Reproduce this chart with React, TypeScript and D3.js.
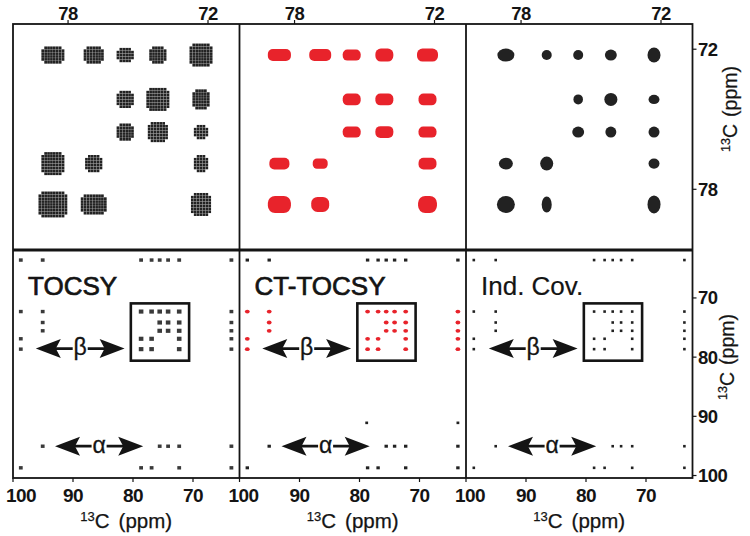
import React from 'react';
import * as d3 from 'd3';

const W = 750;
const H = 536;

// ---------- DATA ----------
// Zoomed (beta ring carbon) region cross peaks, ppm
const boxPeakX = [78.65, 76.9, 75.55, 74.15, 72.3, 75.55, 74.15, 72.3, 75.55, 74.15, 72.3, 78.65, 76.9, 72.3, 78.65, 76.9, 72.3];
const boxPeakY = [72.25, 72.25, 72.25, 72.25, 72.25, 74.15, 74.15, 74.15, 75.55, 75.55, 75.55, 76.9, 76.9, 76.9, 78.65, 78.65, 78.65];
// apparent peak extents in ppm [x, y] for each spectrum
const tocsyExtent = [[0.99, 0.73], [0.86, 0.73], [0.73, 0.64], [0.77, 0.69], [0.94, 0.94], [0.73, 0.77], [0.94, 0.99], [0.73, 0.86], [0.73, 0.73], [0.86, 0.86], [0.64, 0.64], [0.94, 0.94], [0.73, 0.73], [0.64, 0.77], [1.2, 1.07], [1.07, 0.86], [0.86, 0.94]];
const ctExtent = [[0.99, 0.51], [0.94, 0.51], [0.77, 0.47], [0.77, 0.56], [0.9, 0.56], [0.77, 0.51], [0.77, 0.51], [0.77, 0.51], [0.77, 0.47], [0.77, 0.51], [0.77, 0.47], [0.86, 0.51], [0.64, 0.43], [0.77, 0.51], [0.99, 0.73], [0.77, 0.64], [0.81, 0.73]];
const covExtent = [[0.73, 0.56], [0.43, 0.43], [0.43, 0.43], [0.51, 0.47], [0.56, 0.64], [0.41, 0.43], [0.56, 0.56], [0.47, 0.39], [0.51, 0.47], [0.47, 0.47], [0.47, 0.47], [0.6, 0.51], [0.56, 0.6], [0.47, 0.43], [0.77, 0.73], [0.43, 0.69], [0.56, 0.77]];

// Full spectrum cross peaks, row by row (y ppm -> x ppm list)
const fullRowY = [63.6, 72.3, 74.15, 75.55, 76.9, 78.65, 95.05, 98.7];
const fullRowX = [
  [98.7, 95.05, 78.65, 76.9, 75.55, 74.15, 72.3, 63.6],
  [98.7, 95.05, 78.65, 76.9, 75.55, 74.15, 72.3, 63.6],
  [95.05, 75.55, 74.15, 72.3, 63.6],
  [95.05, 75.55, 74.15, 72.3, 63.6],
  [98.7, 78.65, 76.9, 72.3, 63.6],
  [98.7, 78.65, 76.9, 72.3, 63.6],
  [95.05, 75.55, 74.15, 72.3, 63.6],
  [98.7, 78.65, 76.9, 72.3, 63.6],
];
// extra (artifact) peaks seen only in the CT-TOCSY spectrum
const ctExtraX = [78.8, 63.6];
const ctExtraY = [91.1, 91.1];

const zoomX = [80.36, 70.65];
const zoomY = [70.92, 80.6];
const fullX = [100, 62.25];
const fullY = [61.9, 100.42];

const topTicks = [78, 72];
const fullTicks = [100, 90, 80, 70];
const panelNames = ['TOCSY', 'CT-TOCSY', 'Ind. Cov.'];
const betaArrow = [96.2, 81.4, 78.55];
const alphaArrow = [93.0, 78.3, 95.05];

// ---------- STYLE ----------
const FONT = 'Liberation Sans, Arial, Helvetica, sans-serif';
const RED = '#e8232b';
const INK = '#141414';

function Multiplet({ cx, cy, w, h }: { cx: number; cy: number; w: number; h: number }) {
  const p = 2.9;
  const nx = Math.max(2, Math.round(w / p));
  const ny = Math.max(2, Math.round(h / p));
  const dots: React.ReactNode[] = [];
  for (let i = 0; i < nx; i++) {
    for (let j = 0; j < ny; j++) {
      const corner = (i === 0 || i === nx - 1) && (j === 0 || j === ny - 1);
      if (corner && nx > 3 && ny > 3) continue;
      const x = cx - ((nx - 1) * p) / 2 + i * p;
      const y = cy - ((ny - 1) * p) / 2 + j * p;
      dots.push(<rect key={i + '-' + j} x={x - 1.35} y={y - 1.35} width={2.7} height={2.7} fill="#222" />);
    }
  }
  return <g>{dots}</g>;
}

function Arrow({ x1, x2, y, label }: { x1: number; x2: number; y: number; label: string }) {
  const L = 25;
  const hh = 9.5;
  const left = `M${x1},${y} L${x1 + L},${y - hh} L${x1 + L * 0.8},${y} L${x1 + L},${y + hh} Z`;
  const right = `M${x2},${y} L${x2 - L},${y - hh} L${x2 - L * 0.8},${y} L${x2 - L},${y + hh} Z`;
  const mid = (x1 + x2) / 2;
  return (
    <g>
      <line x1={x1 + L * 0.7} x2={x2 - L * 0.7} y1={y} y2={y} stroke={INK} strokeWidth={2.8} />
      <rect x={mid - 7.5} y={y - 10} width={15} height={20} fill="white" />
      <text x={mid} y={y + 6.5} fontSize={23} textAnchor="middle" fontFamily={FONT} fill={INK} stroke={INK} strokeWidth={0.3}>{label}</text>
      <path d={left} fill={INK} />
      <path d={right} fill={INK} />
    </g>
  );
}

export default function App() {
  const lefts = [13, 239.5, 466];
  const pw = 226.5;
  const top0 = 24;
  const mid = 250;
  const bot = 478;
  const right = lefts[2] + pw;

  const ty = d3.scaleLinear().domain(zoomY).range([top0, mid]);
  const by = d3.scaleLinear().domain(fullY).range([mid, bot]);

  const inZoom = (x: number, y: number) => x <= zoomX[0] && x >= zoomX[1] && y >= zoomY[0] && y <= zoomY[1];

  const panels = lefts.map((l, k) => {
    const tx = d3.scaleLinear().domain(zoomX).range([l, l + pw]);
    const bx = d3.scaleLinear().domain(fullX).range([l, l + pw]);

    const topMarks = boxPeakX.map((px, i) => {
      const cx = tx(px);
      const cy = ty(boxPeakY[i]);
      const ppx = Math.abs(tx(0) - tx(1));
      if (k === 0) {
        const e = tocsyExtent[i];
        return <Multiplet key={i} cx={cx} cy={cy} w={e[0] * ppx} h={e[1] * ppx} />;
      }
      if (k === 1) {
        const e = ctExtent[i];
        const w = e[0] * ppx;
        const h = e[1] * ppx;
        return <rect key={i} x={cx - w / 2} y={cy - h / 2} width={w} height={h} rx={h * 0.42} ry={h * 0.42} fill={RED} />;
      }
      const e = covExtent[i];
      return <ellipse key={i} cx={cx} cy={cy} rx={(e[0] * ppx) / 2} ry={(e[1] * ppx) / 2} fill="#222" />;
    });

    const botMarks: React.ReactNode[] = [];
    fullRowY.forEach((yv, r) => {
      fullRowX[r].forEach((xv, c) => {
        const cx = bx(xv);
        const cy = by(yv);
        const key = r + '-' + c;
        const boxed = inZoom(xv, yv);
        if (k === 0) {
          const s = boxed ? 4.6 : 3.8;
          botMarks.push(<rect key={key} x={cx - s / 2} y={cy - s * 0.45} width={s} height={s * 0.9} fill="#3a3a3a" />);
        } else if (k === 1) {
          const red = yv > 70 && yv < 81;
          if (red) {
            botMarks.push(<ellipse key={key} cx={cx} cy={cy} rx={2.4} ry={1.9} fill={RED} />);
          } else {
            botMarks.push(<rect key={key} x={cx - 1.7} y={cy - 1.5} width={3.4} height={3} fill="#222" />);
          }
        } else {
          botMarks.push(<rect key={key} x={cx - 1.3} y={cy - 1.3} width={2.6} height={2.6} fill="#222" />);
        }
      });
    });
    if (k === 1) {
      ctExtraX.forEach((xv, i) => {
        botMarks.push(<rect key={'x' + i} x={bx(xv) - 1.4} y={by(ctExtraY[i]) - 1.3} width={2.8} height={2.6} fill="#222" />);
      });
    }

    const cxMid = l + pw / 2;
    return (
      <g key={k}>
        {topMarks}
        {botMarks}
        <rect x={bx(zoomX[0])} y={by(zoomY[0])} width={bx(zoomX[1]) - bx(zoomX[0])} height={by(zoomY[1]) - by(zoomY[0])} fill="none" stroke={INK} strokeWidth={2.6} />
        <text x={l + 15} y={295} fontSize={26} fontFamily={FONT} fill={INK} stroke={INK} strokeWidth={k === 2 ? 0.2 : 0.7}>{panelNames[k]}</text>
        <Arrow x1={bx(betaArrow[0])} x2={bx(betaArrow[1])} y={by(betaArrow[2])} label="β" />
        <Arrow x1={bx(alphaArrow[0])} x2={bx(alphaArrow[1])} y={by(alphaArrow[2])} label="α" />
        {topTicks.map((t) => (
          <g key={'tt' + t}>
            <line x1={tx(t)} x2={tx(t)} y1={top0} y2={top0 - 4} stroke={INK} strokeWidth={1.2} />
            <text x={tx(t)} y={20} fontSize={18.5} fontWeight="bold" textAnchor="middle" fontFamily={FONT} fill={INK} letterSpacing={-0.5}>{t}</text>
          </g>
        ))}
        {fullTicks.map((t) => (
          <g key={'bt' + t}>
            <line x1={bx(t)} x2={bx(t)} y1={bot} y2={bot + 4} stroke={INK} strokeWidth={1.2} />
            <text x={t === 100 ? Math.max(bx(t) + 4, 21) : bx(t)} y={502} fontSize={19} fontWeight="bold" textAnchor="middle" fontFamily={FONT} fill={INK} letterSpacing={-0.5}>{t}</text>
          </g>
        ))}
        <text x={cxMid} y={528} fontSize={20.5} textAnchor="middle" fontFamily={FONT} fill={INK} stroke={INK} strokeWidth={0.25}>
          <tspan fontSize={13} dy={-7}>13</tspan>
          <tspan dy={7}>C</tspan>
          <tspan dx={9}>(ppm)</tspan>
        </text>
      </g>
    );
  });

  return (
    <svg width={W} height={H} viewBox={`0 0 ${W} ${H}`} style={{ position: 'absolute', left: 0, top: 0, background: 'white' }}>
      <rect x={0} y={0} width={W} height={H} fill="white" />
      {panels}
      <rect x={lefts[0]} y={top0} width={right - lefts[0]} height={bot - top0} fill="none" stroke={INK} strokeWidth={1.8} />
      <line x1={lefts[0]} x2={right} y1={mid} y2={mid} stroke={INK} strokeWidth={3} />
      {lefts.slice(1).map((l) => (
        <line key={l} x1={l} x2={l} y1={top0} y2={bot} stroke={INK} strokeWidth={1.8} />
      ))}
      {topTicks.map((t) => (
        <g key={'rt' + t}>
          <line x1={right} x2={right + 4} y1={ty(t)} y2={ty(t)} stroke={INK} strokeWidth={1.2} />
          <text x={698} y={ty(t) + 6.5} fontSize={18.5} fontWeight="bold" fontFamily={FONT} fill={INK} letterSpacing={-0.5}>{t}</text>
        </g>
      ))}
      {fullTicks.map((t) => (
        <g key={'rb' + t}>
          <line x1={right} x2={right + 4} y1={by(t)} y2={by(t)} stroke={INK} strokeWidth={1.2} />
          <text x={698} y={by(t) + 6.5} fontSize={18.5} fontWeight="bold" fontFamily={FONT} fill={INK} letterSpacing={-0.5}>{t}</text>
        </g>
      ))}
      {[{ x: 731, y: 109 }, { x: 728, y: 357 }].map((p, i) => (
        <text key={'yt' + i} transform={`translate(${p.x + 6},${p.y}) rotate(-90)`} fontSize={19.5} textAnchor="middle" fontFamily={FONT} fill={INK} stroke={INK} strokeWidth={0.25}>
          <tspan fontSize={12.5} dy={-7}>13</tspan>
          <tspan dy={7}>C</tspan>
          <tspan dx={7}>(ppm)</tspan>
        </text>
      ))}
    </svg>
  );
}
